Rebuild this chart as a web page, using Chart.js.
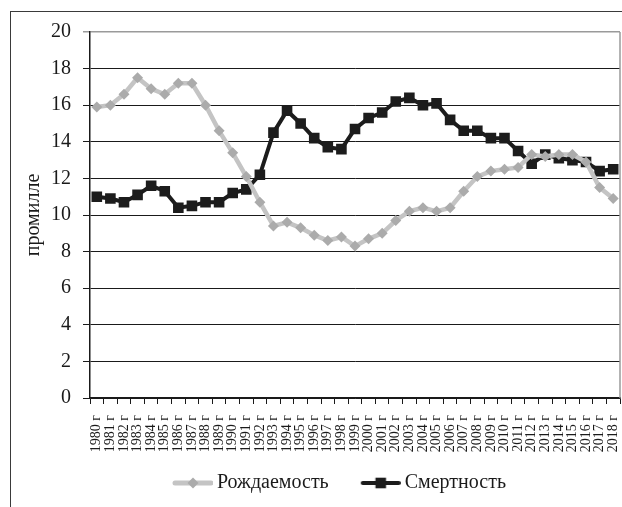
<!DOCTYPE html>
<html>
<head>
<meta charset="utf-8">
<script src="https://cdn.jsdelivr.net/npm/chart.js@4.4.1/dist/chart.umd.min.js"></script>
<style>
body { margin: 0; background: #fff; }
#wrap { position: relative; width: 622px; height: 507px; overflow: hidden; }
#frame { position: absolute; left: 10px; top: 11px; width: 700px; height: 600px; border: 1.5px solid #3a3a3a; }
canvas { position: absolute; left: 0; top: 0; }
</style>
</head>
<body>
<div id="wrap"><div id="frame"></div><canvas id="chart" width="622" height="507"></canvas></div>
<script>
// years on the x axis
const years = ['1980 г', '1981 г', '1982 г', '1983 г', '1984 г', '1985 г', '1986 г', '1987 г', '1988 г', '1989 г',
    '1990 г', '1991 г', '1992 г', '1993 г', '1994 г', '1995 г', '1996 г', '1997 г', '1998 г', '1999 г',
    '2000 г', '2001 г', '2002 г', '2003 г', '2004 г', '2005 г', '2006 г', '2007 г', '2008 г', '2009 г',
    '2010 г', '2011 г', '2012 г', '2013 г', '2014 г', '2015 г', '2016 г', '2017 г', '2018 г'];

// per mille values
const births = [15.9, 16.0, 16.6, 17.5, 16.9, 16.6, 17.2, 17.2, 16.0, 14.6,
    13.4, 12.1, 10.7, 9.4, 9.6, 9.3, 8.9, 8.6, 8.8, 8.3,
    8.7, 9.0, 9.7, 10.2, 10.4, 10.2, 10.4, 11.3, 12.1, 12.4,
    12.5, 12.6, 13.3, 13.2, 13.3, 13.3, 12.9, 11.5, 10.9];
const deaths = [11.0, 10.9, 10.7, 11.1, 11.6, 11.3, 10.4, 10.5, 10.7, 10.7,
    11.2, 11.4, 12.2, 14.5, 15.7, 15.0, 14.2, 13.7, 13.6, 14.7,
    15.3, 15.6, 16.2, 16.4, 16.0, 16.1, 15.2, 14.6, 14.6, 14.2,
    14.2, 13.5, 12.8, 13.3, 13.1, 13.0, 12.9, 12.4, 12.5];

const yTicks = [0, 2, 4, 6, 8, 10, 12, 14, 16, 18, 20];

const grayLine = '#c4c4c4';
const grayMark = '#ababab';
const blackLine = '#1c1c1c';

Chart.defaults.font.family = '"Liberation Serif", "Times New Roman", serif';
Chart.defaults.color = '#1a1a1a';

// line + marker picture for the legend (empty left part gives the gap between items)
function legendIcon(lineColor, markColor, lineW, style, r) {
    const c = document.createElement('canvas');
    c.width = 68;
    c.height = 18;
    const ctx = c.getContext('2d');
    ctx.strokeStyle = lineColor;
    ctx.lineWidth = lineW;
    ctx.lineCap = 'round';
    ctx.beginPath();
    ctx.moveTo(30, 9);
    ctx.lineTo(66, 9);
    ctx.stroke();
    ctx.fillStyle = markColor;
    ctx.beginPath();
    if (style == 'rect') {
        const s = r * Math.SQRT1_2;
        ctx.rect(48 - s, 9 - s, 2 * s, 2 * s);
    } else {
        ctx.moveTo(48, 9 - r);
        ctx.lineTo(48 + r, 9);
        ctx.lineTo(48, 9 + r);
        ctx.lineTo(48 - r, 9);
        ctx.closePath();
    }
    ctx.fill();
    return c;
}
const icons = [
    legendIcon(grayLine, grayMark, 5, 'rectRot', 5.5),
    legendIcon(blackLine, blackLine, 4, 'rect', 7.5)
];

const extras = {
    id: 'extras',
    afterLayout(chart) {
        // legend is centred in the wider original frame
        chart.legend.left += 37;
        chart.legend.top -= 4;
    },
    beforeDatasetsDraw(chart) {
        const a = chart.chartArea;
        const ctx = chart.ctx;
        ctx.save();
        ctx.strokeStyle = '#9a9a9a';
        ctx.lineWidth = 1.5;
        ctx.beginPath();
        ctx.moveTo(a.right, a.top);
        ctx.lineTo(a.right, a.bottom);
        ctx.stroke();
        ctx.restore();
    }
};

const chartEl = document.getElementById('chart');

const config = {
    type: 'line',
    data: {
        labels: years,
        datasets: [{
            label: 'Рождаемость',
            data: births,
            borderColor: grayLine,
            borderWidth: 4.5,
            pointStyle: 'rectRot',
            pointRadius: 5.5,
            pointBackgroundColor: grayMark,
            pointBorderWidth: 0,
            tension: 0
        },
        {
            label: 'Смертность',
            data: deaths,
            borderColor: blackLine,
            borderWidth: 4,
            pointStyle: 'rect',
            pointRadius: 7.5,
            pointBackgroundColor: blackLine,
            pointBorderWidth: 0,
            tension: 0
        }]
    },
    options: {
        responsive: false,
        animation: false,
        layout: { autoPadding: false, padding: { left: 0, right: 2, top: 32, bottom: 0 } },
        plugins: {
            tooltip: { enabled: false },
            legend: {
                position: 'bottom',
                labels: {
                    usePointStyle: true,
                    pointStyleWidth: 56,
                    padding: 10,
                    color: '#1a1a1a',
                    font: { size: 20 },
                    generateLabels(chart) {
                        const items = Chart.defaults.plugins.legend.labels.generateLabels(chart);
                        items.forEach((it, i) => { it.pointStyle = icons[i]; });
                        return items;
                    }
                }
            }
        },
        scales: {
            x: {
                offset: true,
                grid: {
                    offset: true,
                    drawOnChartArea: false,
                    tickLength: 6,
                    color: '#1a1a1a',
                    lineWidth: 1
                },
                border: { color: '#1a1a1a', width: 1.5 },
                ticks: {
                    autoSkip: false,
                    maxRotation: 90,
                    minRotation: 90,
                    padding: 11,
                    font: { size: 14 },
                    color: '#1a1a1a'
                },
                afterFit(scale) {
                    scale.height = 69;
                    scale.paddingLeft = 0;
                    scale.paddingRight = 0;
                }
            },
            y: {
                min: 0,
                max: 20,
                afterBuildTicks(scale) { scale.ticks = yTicks.map(v => ({ value: v })); },
                grid: {
                    tickLength: 7,
                    color: ctx => (ctx.tick && ctx.tick.value == 20) ? '#9a9a9a' : '#1a1a1a',
                    lineWidth: ctx => (ctx.tick && ctx.tick.value == 20) ? 1.5 : 1
                },
                border: { color: '#1a1a1a', width: 1.5 },
                ticks: {
                    padding: 12,
                    font: { size: 20 },
                    color: '#1a1a1a'
                },
                title: {
                    display: true,
                    text: 'промилле',
                    font: { size: 20 },
                    color: '#1a1a1a',
                    padding: { top: 22, bottom: 0 }
                },
                afterFit(scale) { scale.width = 90; }
            }
        }
    },
    plugins: [extras]
};

const chart = new Chart(chartEl, config);
</script>
</body>
</html>
